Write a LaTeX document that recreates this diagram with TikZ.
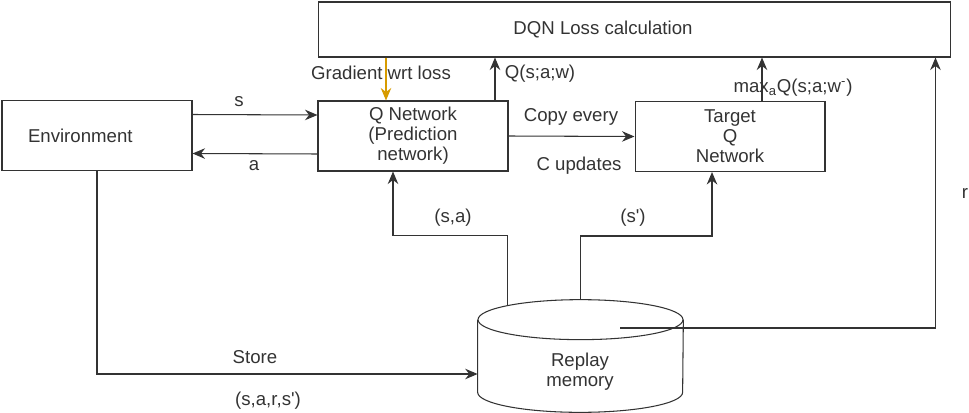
\documentclass[tikz,border=0pt]{standalone}
\usepackage{fontspec}
\setmainfont{Liberation Sans}
\usetikzlibrary{arrows.meta}
\definecolor{ink}{HTML}{333333}
\definecolor{gradorange}{HTML}{D79B00}
\begin{document}
\begin{tikzpicture}[x=0.02cm, y=-0.02cm,
  every node/.style={inner sep=1pt, text=ink, font=\fontsize{10.6}{11.4}\selectfont},
  box/.style={rectangle, draw=ink, line width=0.6pt, minimum width=3.8cm, minimum height=1.4cm, align=center},
  arr/.style={draw=ink, line width=0.6pt, -{Stealth[length=2.5mm,width=2.1mm]}}]
\useasboundingbox (0,0) rectangle (969,412);
% boxes
\node[box, minimum width=12.66cm, minimum height=1.1cm] (loss) at (634.5,29.5) {};
\node (losstxt) at (603,30) {DQN Loss calculation};
\node[box, text width=2.76cm, inner xsep=0.52cm, align=left] (env) at (97,135.5) {Environment};
\node[box] (qnet) at (413,136) {Q Network\\(Prediction\\network)};
\node[box] (target) at (730,136.5) {Target\\Q\\Network};
% replay memory drum
\node[minimum width=4.1cm, minimum height=2.24cm] (mem) at (580.5,356) {};
\draw[ink, line width=0.6pt] ([yshift=-.4cm]mem.north west) -- ([yshift=.4cm]mem.south west)
  arc[start angle=180, end angle=360, x radius=2.05cm, y radius=.4cm] -- ([yshift=-.4cm]mem.north east);
\draw[ink, line width=0.6pt] ([yshift=-.4cm]mem.north) ellipse [x radius=2.05cm, y radius=.4cm];
\node[align=center] (memtxt) at (580,372) {Replay\\memory};

% connectors
\draw[arr] ([yshift=.42cm]env.east) -- ([yshift=.42cm]qnet.west);
\draw[arr] ([yshift=-.36cm]qnet.west) -- ([yshift=-.36cm]env.east);
\draw[arr] (qnet.east) -- (target.west);
\coordinate (gq) at ([xshift=-.54cm]qnet.north);
\draw[arr, draw=gradorange] (gq |- loss.south) -- (gq);
\foreach \from/\dx in {qnet/1.64cm, target/.64cm}
  \draw[arr] ([xshift=\dx]\from.north) -- ([xshift=\dx]\from.north |- loss.south);
\draw[arr] ([xshift=-1.46cm,yshift=-.12cm]mem.north) |- ([xshift=-.4cm,yshift=-1.28cm]qnet.south) -- ([xshift=-.4cm]qnet.south);
\draw[arr] (mem.north) |- ([xshift=-.36cm,yshift=-1.28cm]target.south) -- ([xshift=-.36cm]target.south);
\draw[arr] (env.south) |- ([yshift=-.36cm]mem.west);
\draw[arr] ([xshift=.79cm,yshift=.56cm]mem.center) -| ([xshift=-.32cm]loss.south east);

% labels
\node (ls) at (239,102) {s};
\node (la) at (254,166) {a};
\node (lgrad) at (381,73) {Gradient wrt loss};
\node (lq) at (540,74) {Q(s;a;w)};
\node (lmax) at (793,88) {max\textsubscript{a}Q(s;a;w\textsuperscript{-})};
\node (lcopy) at (571,117) {Copy every};
\node (lupd) at (579,166) {C updates};
\node (lsa) at (453,218) {(s,a)};
\node (lsp) at (633,218) {(s\textquotesingle)};
\node (lstore) at (255,357) {Store};
\node (ltrans) at (268,401) {(s,a,r,s\textquotesingle)};
\node (lr) at (965,193) {r};
\end{tikzpicture}
\end{document}
